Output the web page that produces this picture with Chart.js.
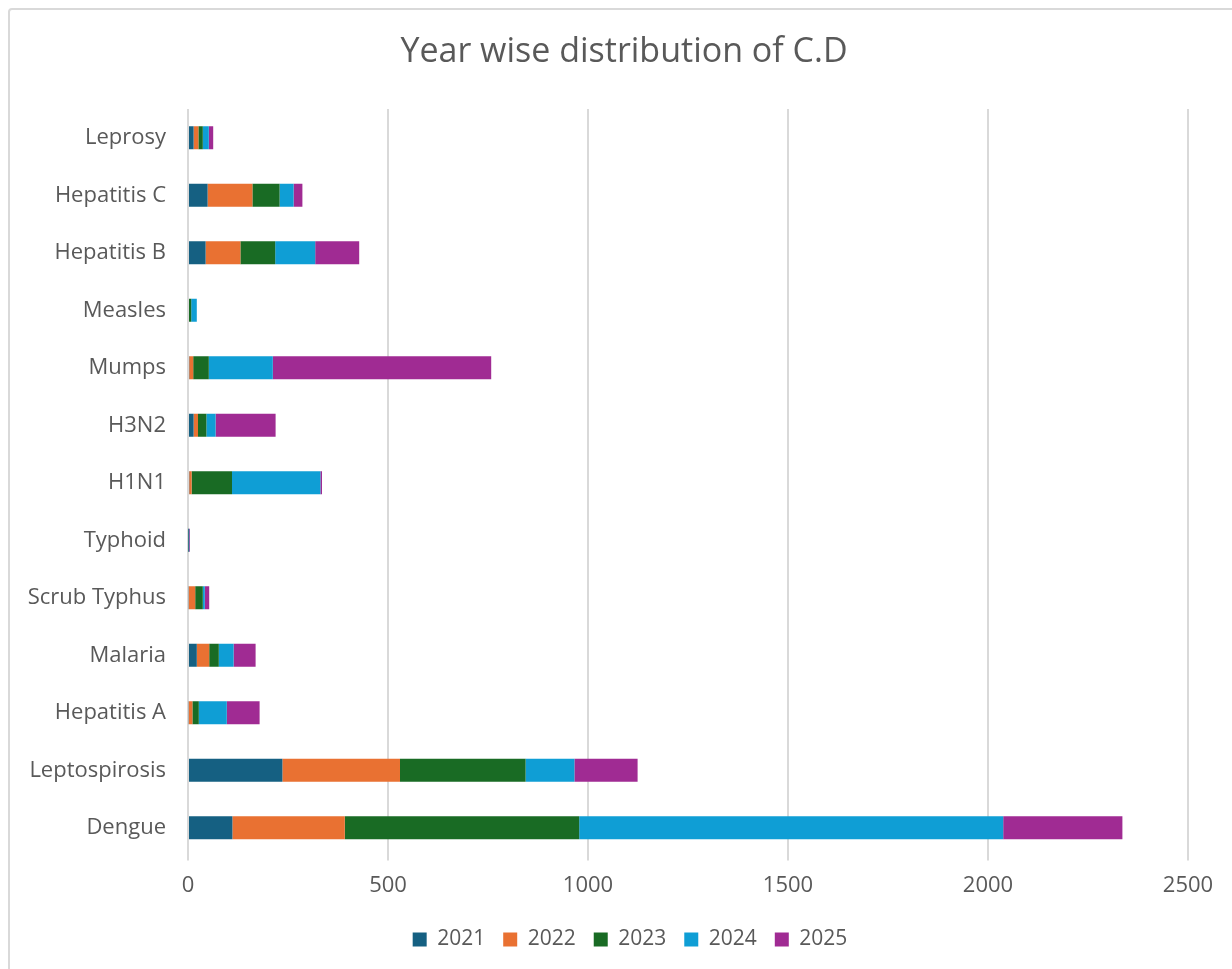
<!DOCTYPE html>
<html>
<head>
<meta charset="utf-8">
<script src="https://cdn.jsdelivr.net/npm/chart.js@4"></script>
<style>
  body { margin: 0; background: #fff; }
  #frame {
    position: absolute; left: 8px; top: 8px;
    width: 1260px; height: 1000px;
    border: 2px solid #d9d9d9; border-radius: 4px;
  }
  #cdChart { position: absolute; left: 0; top: 0; }
</style>
</head>
<body>
<div id="frame"></div>
<canvas id="cdChart" width="1232" height="969"></canvas>
<script>
const diseases = ['Leprosy', 'Hepatitis C', 'Hepatitis B', 'Measles', 'Mumps', 'H3N2', 'H1N1',
  'Typhoid', 'Scrub Typhus', 'Malaria', 'Hepatitis A', 'Leptospirosis', 'Dengue'];
const years = ['2021', '2022', '2023', '2024', '2025'];
const cases2021 = [14, 49, 44, 0, 3, 14, 3, 1, 2, 22, 2, 236, 111];
const cases2022 = [12, 112, 87, 0, 10, 11, 6, 0, 16, 31, 9, 294, 281];
const cases2023 = [11, 68, 87, 8, 39, 21, 101, 1, 19, 24, 16, 314, 586];
const cases2024 = [15, 35, 100, 14, 160, 23, 221, 1, 5, 37, 70, 122, 1060];
const cases2025 = [11, 22, 110, 0, 546, 150, 4, 2, 11, 55, 82, 158, 298];
const xTicks = [0, 500, 1000, 1500, 2000, 2500];

const colors = ['#156082', '#E97132', '#196B24', '#0F9ED5', '#A02B93'];
const series = [cases2021, cases2022, cases2023, cases2024, cases2025];

const textColor = '#595959';
const fontFamily = '"Open Sans", sans-serif';

// the frame runs past the right edge, so title and legend sit right of the canvas centre
const shiftBlocks = {
  id: 'shiftBlocks',
  afterLayout(chart) {
    if (chart.titleBlock) { chart.titleBlock.left += 30; chart.titleBlock.right += 30; }
    if (chart.legend) { chart.legend.left += 36; chart.legend.right += 36; }
  }
};

function createChart() {
  const ctx = document.getElementById('cdChart').getContext('2d');
  new Chart(ctx, {
    type: 'bar',
    data: {
      labels: diseases,
      datasets: years.map((y, i) => ({
        label: y,
        data: series[i],
        backgroundColor: colors[i],
        borderWidth: 0,
        barPercentage: 0.4,
        categoryPercentage: 1
      }))
    },
    options: {
      indexAxis: 'y',
      responsive: false,
      animation: false,
      layout: { padding: { left: 0, right: 44, top: 0, bottom: 9 } },
      plugins: {
        title: {
          display: true,
          text: 'Year wise distribution of C.D',
          color: textColor,
          font: { family: fontFamily, size: 34, weight: 'normal' },
          padding: { top: 32, bottom: 36.2 }
        },
        legend: {
          position: 'bottom',
          labels: {
            color: textColor,
            font: { family: fontFamily, size: 21 },
            boxWidth: 14,
            boxHeight: 14,
            padding: 18
          }
        },
        tooltip: { enabled: false }
      },
      scales: {
        x: {
          stacked: true,
          min: 0,
          max: 2500,
          afterBuildTicks: scale => { scale.ticks = xTicks.map(v => ({ value: v })); },
          ticks: {
            color: textColor,
            font: { family: fontFamily, size: 22 },
            padding: 12,
            callback: value => String(value)
          },
          grid: { color: '#d9d9d9', lineWidth: 2, tickLength: 4 },
          border: { display: false }
        },
        y: {
          stacked: true,
          afterFit: scale => { scale.width = 188; },
          ticks: {
            color: textColor,
            font: { family: fontFamily, size: 22 },
            padding: 14
          },
          grid: { display: false },
          border: { display: false }
        }
      }
    },
    plugins: [shiftBlocks]
  });
}

document.addEventListener('DOMContentLoaded', createChart);
</script>
</body>
</html>
